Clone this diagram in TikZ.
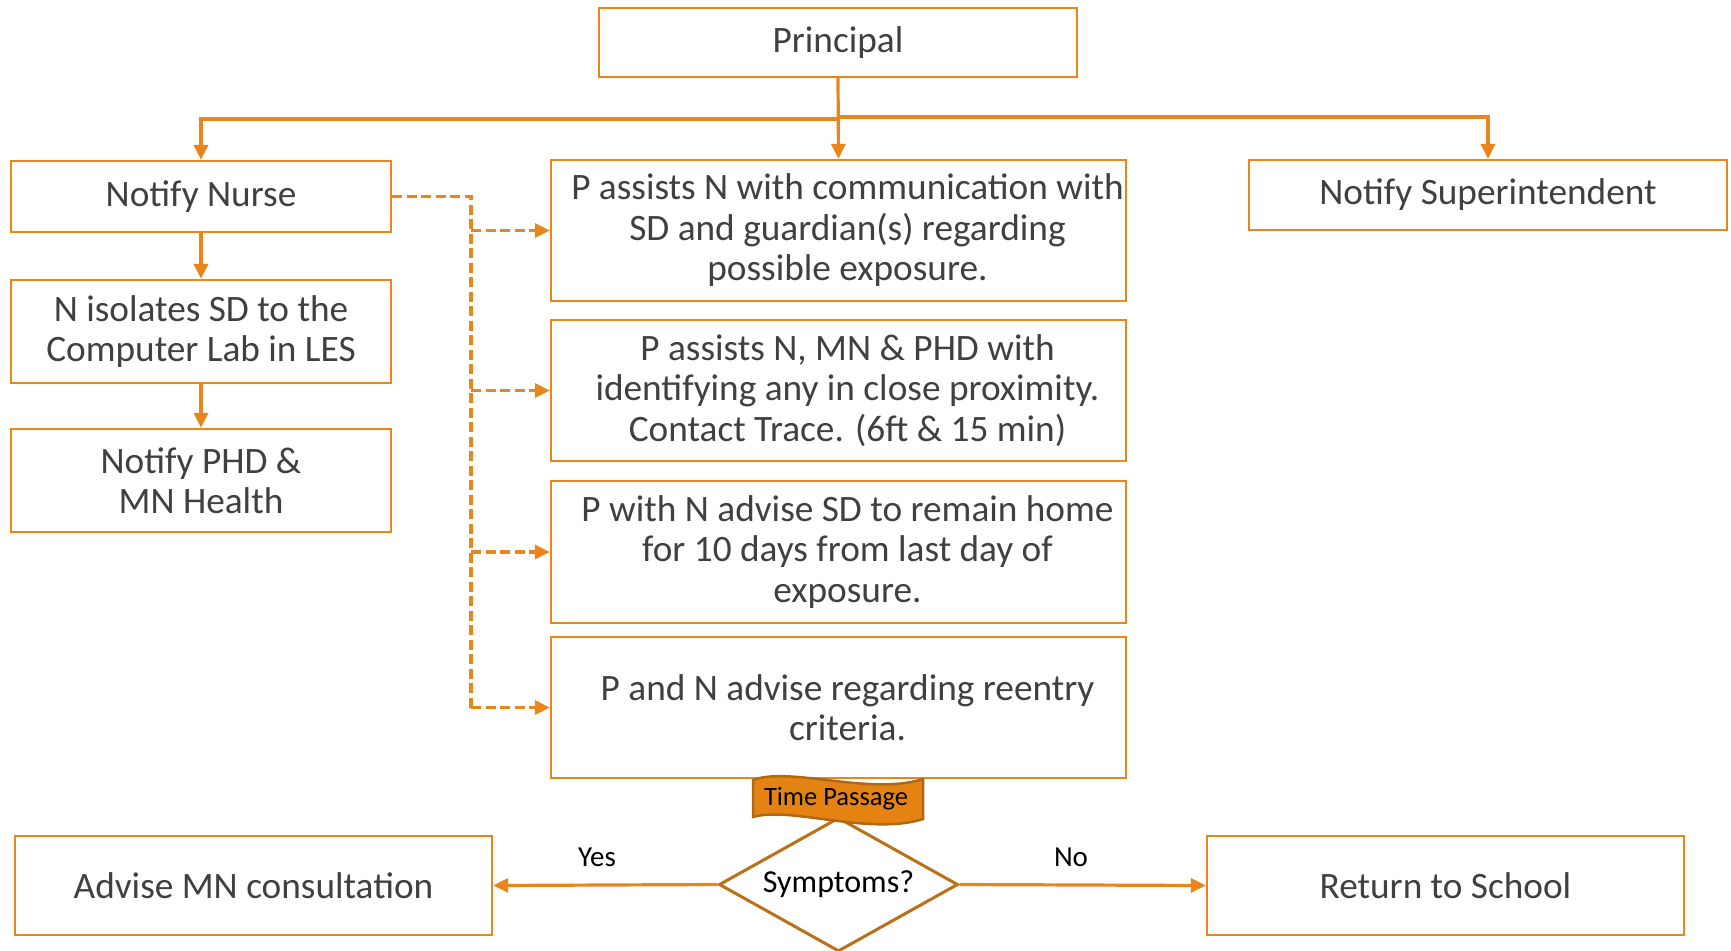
\documentclass[tikz,border=0pt]{standalone}
\usepackage{fontspec}
\setmainfont{Carlito}
\usetikzlibrary{shapes.geometric,arrows.meta}
\definecolor{org}{RGB}{232,134,28}
\definecolor{ban}{RGB}{228,130,18}
\definecolor{banedge}{RGB}{176,104,20}
\definecolor{diaedge}{RGB}{186,112,22}
\definecolor{txt}{RGB}{64,64,64}
\begin{document}
\begin{tikzpicture}[x=1pt,y=-1pt,
  box/.style={draw=org, line width=2.2pt, fill=white, inner sep=0pt},
  lbl/.style={text=txt, font=\fontsize{37.3}{40.5}\selectfont, align=center, inner sep=0pt},
  link/.style={draw=org, line width=3.2pt, -{Triangle[length=15pt,width=14pt]}},
  dline/.style={draw=org, line width=3.2pt, dash pattern=on 10pt off 4.5pt},
  dlink/.style={dline, -{Triangle[length=15pt,width=14pt]}}
]
\useasboundingbox (0,0) rectangle (1731,950);

% top and left column
\node[box, minimum width=478pt, minimum height=69pt] (prin) at (838,42.5) {};
\node[lbl] at (prin.center) {Principal};
\node[box, minimum width=380pt, minimum height=71pt] (nurse) at (201,196.5) {};
\node[lbl] at (nurse.center) {Notify Nurse};
\node[box, minimum width=380pt, minimum height=103pt] (iso) at (201,331.5) {};
\node[lbl] at (iso.center) {N isolates SD to the\\Computer Lab in LES};
\node[box, minimum width=380pt, minimum height=103pt] (phd) at (201,480.5) {};
\node[lbl] at (phd.center) {Notify PHD \&\\MN Health};
\node[box, minimum width=478pt, minimum height=70pt] (super) at (1488,195) {};
\node[lbl] at (super.center) {Notify Superintendent};

% middle column
\node[box, minimum width=575pt, minimum height=141pt] (b1) at (838.5,230.5) {};
\node[lbl, xshift=9pt] at (b1.center) {P assists N with communication with\\SD and guardian(s) regarding\\possible exposure.};
\node[box, minimum width=575pt, minimum height=141pt] (b2) at (838.5,390.5) {};
\node[lbl, xshift=9pt] at (b2.center) {P assists N, MN \& PHD with\\identifying any in close proximity.\\Contact Trace. (6ft \& 15 min)};
\node[box, minimum width=575pt, minimum height=142pt] (b3) at (838.5,552) {};
\node[lbl, xshift=9pt] at (b3.center) {P with N advise SD to remain home\\for 10 days from last day of\\exposure.};
\node[box, minimum width=575pt, minimum height=141pt] (b4) at (838.5,707.5) {};
\node[lbl, xshift=9pt] at (b4.center) {P and N advise regarding reentry\\criteria.};

% bottom row
\node[box, minimum width=477pt, minimum height=99pt] (adv) at (253.5,885.5) {};
\node[lbl] at (adv.center) {Advise MN consultation};
\node[box, minimum width=477pt, minimum height=99pt] (ret) at (1445.5,885.5) {};
\node[lbl] at (ret.center) {Return to School};

% solid connectors
\coordinate (busL) at (838,119);
\coordinate (busR) at (838,117);
\draw[link] (prin.south) -- (b1.north);
\draw[link] (busL) -| (nurse.north);
\draw[link] (busR) -| (super.north);
\draw[link] (nurse.south) -- (iso.north);
\draw[link] (iso.south) -- (phd.north);

% dashed connectors
\coordinate (dtop) at (471,196.5);
\coordinate (dbot) at (471,707.5);
\draw[dline] (nurse.east) -- (dtop) -- (dbot);
\draw[dlink] (dtop |- b1.west) -- (b1.west);
\draw[dlink] (dtop |- b2.west) -- (b2.west);
\draw[dlink] (dtop |- b3.west) -- (b3.west);
\draw[dlink] (dbot) -- (b4.west);

% decision
\node[diamond, draw=diaedge, line width=3pt, fill=white, aspect=1.78,
      minimum width=239pt, minimum height=134pt, inner sep=0pt,
      font=\fontsize{32}{36}\selectfont] (dia) at (838.5,884.5) {Symptoms?};
\draw[link] (dia.west) -- (adv.east);
\draw[link] (dia.east) -- (ret.west);
\node[font=\fontsize{29}{32}\selectfont, inner sep=0pt] (yes) at (597,857) {Yes};
\node[font=\fontsize{29}{32}\selectfont, inner sep=0pt] (no) at (1071,857) {No};

% wavy banner
\path[fill=ban, draw=banedge, line width=2.5pt]
  (753,780) .. controls (790,766) and (870,796) .. (923,779)
  -- (923,819) .. controls (870,836) and (790,806) .. (753,817) -- cycle;
\node[font=\fontsize{26.5}{30}\selectfont, inner sep=0pt] (tp) at (836,799) {Time Passage};
\end{tikzpicture}
\end{document}
